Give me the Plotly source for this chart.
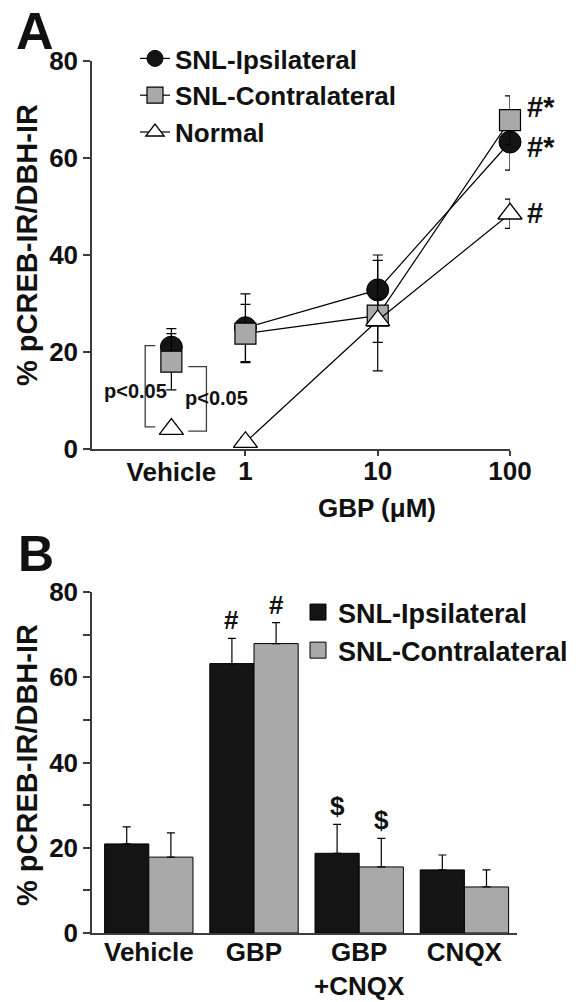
import numpy as np
import plotly.graph_objects as go

# ---------------- Panel A data ----------------
dose_labels = ["Vehicle", "1", "10", "100"]
doses = [1, 10, 100]
vehicle_pos = -0.56  # position of the Vehicle group on the log10(dose) axis

ipsi_a = [21.0, 25.0, 32.8, 63.3]
ipsi_a_err = [3.8, 7.0, 7.2, 5.8]
contra_a = [18.0, 23.8, 27.5, 67.8]
contra_a_err = [5.8, 6.0, 11.4, 5.0]
normal_a = [4.1, 1.4, 26.5, 48.5]
normal_a_err = [1.0, 1.0, 4.5, 3.0]
sig_a_labels = ["#*", "#*", "#"]          # at 100 µM: contra, ipsi, normal
sig_a_y = [70.5, 62.2, 48.6]

# ---------------- Panel B data ----------------
groups_b = ["Vehicle", "GBP", "GBP<br>+CNQX", "CNQX"]
ipsi_b = [20.9, 63.2, 18.7, 14.8]
ipsi_b_err = [4.0, 5.9, 6.8, 3.5]
contra_b = [17.8, 67.9, 15.5, 10.8]
contra_b_err = [5.7, 4.9, 6.7, 4.0]
sig_b_ipsi = ["", "#", "$", ""]
sig_b_contra = ["", "#", "$", ""]

series_names = ["SNL-Ipsilateral", "SNL-Contralateral", "Normal"]

BLACK = "#141414"
GRAY = "#a9a9a9"
AX = "#3c3c3c"
FONT = "Liberation Sans, Arial, Helvetica, sans-serif"

W, H = 580, 1002


def px_x(p):
    return p / W


def px_y(p):
    return (H - p) / H


x_dose = list(np.log10(doses))

fig = go.Figure()

styles = [
    dict(symbol="circle", size=22, color=BLACK, line=dict(color="black", width=1)),
    dict(symbol="square", size=21, color=GRAY, line=dict(color="black", width=1.2)),
    dict(symbol="triangle-up", size=21, color="white", line=dict(color="black", width=1.3)),
]
vals = [ipsi_a, contra_a, normal_a]
errs = [ipsi_a_err, contra_a_err, normal_a_err]

for name, st, v, e in zip(series_names, styles, vals, errs):
    # vehicle point (not connected)
    fig.add_trace(go.Scatter(
        x=[vehicle_pos], y=[v[0]], mode="markers", marker=st, showlegend=False,
        error_y=dict(type="data", array=[e[0]], color="black", thickness=1.2, width=5),
        xaxis="x3", yaxis="y", cliponaxis=False, hoverinfo="skip"))
    # dose-response line
    fig.add_trace(go.Scatter(
        x=x_dose, y=v[1:], mode="lines+markers", name=name, marker=st,
        line=dict(color="black", width=1.2),
        error_y=dict(type="data", array=e[1:], color="black", thickness=1.2, width=5),
        xaxis="x", yaxis="y", cliponaxis=False, legend="legend"))

# ---------------- Panel B bars ----------------
fig.add_trace(go.Bar(
    x=groups_b, y=ipsi_b, name="SNL-Ipsilateral", marker=dict(color=BLACK, line=dict(color="black", width=1)),
    error_y=dict(type="data", symmetric=False, array=ipsi_b_err, arrayminus=[0] * 4,
                 color="black", thickness=1.2, width=4),
    xaxis="x2", yaxis="y2", showlegend=False))
fig.add_trace(go.Bar(
    x=groups_b, y=contra_b, name="SNL-Contralateral", marker=dict(color=GRAY, line=dict(color="black", width=1)),
    error_y=dict(type="data", symmetric=False, array=contra_b_err, arrayminus=[0] * 4,
                 color="black", thickness=1.2, width=4),
    xaxis="x2", yaxis="y2", showlegend=False))

# legend entries for panel B (square swatches)
for name, col, grp in [("SNL-Ipsilateral", BLACK, "b1"), ("SNL-Contralateral", GRAY, "b2")]:
    fig.add_trace(go.Scatter(
        x=[None], y=[None], mode="markers", name=name,
        marker=dict(symbol="square", size=21, color=col, line=dict(color="black", width=1)),
        xaxis="x2", yaxis="y2", legend="legend2", legendgroup=grp))

tickfont = dict(family=FONT, size=26, color="#111", weight="bold")

fig.update_layout(
    width=W, height=H, margin=dict(l=0, r=0, t=0, b=0, pad=0, autoexpand=False),
    plot_bgcolor="white", paper_bgcolor="white",
    barmode="group", bargap=0.16, bargroupgap=0,
    font=dict(family=FONT, color="#111"),
    xaxis=dict(domain=[px_x(92), px_x(510)], range=[-1.16, 2.0], anchor="y",
               tickvals=x_dose, ticktext=dose_labels[1:], ticks="outside", ticklen=5,
               tickwidth=1.5, tickcolor=AX, showline=True, linecolor=AX, linewidth=1.5,
               showgrid=False, zeroline=False, tickfont=tickfont, automargin=False,
               ticklabelstandoff=-7),
    xaxis3=dict(overlaying="x", anchor="y", range=[-1.16, 2.0], side="bottom",
                tickvals=[vehicle_pos], ticktext=dose_labels[:1], ticks="",
                showline=False, showgrid=False, zeroline=False, tickfont=tickfont, automargin=False,
                ticklabelstandoff=5),
    yaxis=dict(domain=[px_y(449), px_y(61)], range=[0, 80], anchor="x",
               tickvals=[0, 20, 40, 60, 80], ticks="outside", ticklen=7, tickwidth=1.5,
               tickcolor=AX, showline=True, linecolor=AX, linewidth=1.5,
               showgrid=False, zeroline=False, tickfont=tickfont, automargin=False),
    xaxis2=dict(domain=[px_x(92), px_x(517)], range=[-0.54, 3.5], anchor="y2", type="category",
                ticks="", showline=True, linecolor=AX, linewidth=1.5, showgrid=False,
                zeroline=False, tickfont=tickfont, automargin=False, ticklabelstandoff=-5),
    yaxis2=dict(domain=[px_y(933), px_y(592)], range=[0, 80], anchor="x2",
                tickvals=[0, 20, 40, 60, 80], ticks="outside", ticklen=7, tickwidth=1.5,
                tickcolor=AX, showline=True, linecolor=AX, linewidth=1.5,
                minor=dict(dtick=10, ticks="outside", ticklen=7, tickwidth=1.5, tickcolor=AX),
                showgrid=False, zeroline=False, tickfont=tickfont, automargin=False),
    legend=dict(x=px_x(135), y=px_y(35), xanchor="left", yanchor="top",
                bgcolor="rgba(0,0,0,0)", font=dict(family=FONT, size=26, weight="bold", color="#111"),
                itemwidth=30, tracegroupgap=0),
    legend2=dict(x=px_x(298), y=px_y(588), xanchor="left", yanchor="top",
                 bgcolor="rgba(0,0,0,0)", font=dict(family=FONT, size=27, weight="bold", color="#111"),
                 itemwidth=30, tracegroupgap=0, traceorder="grouped"),
)

ann = []
bold = lambda s: dict(family=FONT, size=s, weight="bold", color="#111")
# panel letters
ann.append(dict(text="A", x=px_x(35), y=1.0, xref="paper", yref="paper", showarrow=False,
                font=bold(52), xanchor="center", yanchor="top"))
ann.append(dict(text="B", x=px_x(36), y=px_y(554), xref="paper", yref="paper", showarrow=False,
                font=bold(50), xanchor="center", yanchor="middle"))
# y titles
for yc in [245, 765]:
    ann.append(dict(text="% pCREB-IR/DBH-IR", x=px_x(27), y=px_y(yc), xref="paper", yref="paper",
                    textangle=-90, showarrow=False, font=bold(29), xanchor="center", yanchor="middle"))
# x title A
ann.append(dict(text="GBP (μM)", x=px_x(377), y=px_y(508), xref="paper", yref="paper",
                showarrow=False, font=bold(26), xanchor="center", yanchor="middle"))
# significance at 100 µM
for lab, yv in zip(sig_a_labels, sig_a_y):
    ann.append(dict(text=lab, x=x_dose[-1], y=yv, xref="x", yref="y", showarrow=False,
                    font=bold(29), xanchor="left", yanchor="middle", xshift=15))
# p<0.05 labels
ann.append(dict(text="p<0.05", x=-0.83, y=12.0, xref="x", yref="y", showarrow=False,
                font=bold(20), xanchor="center", yanchor="middle"))
ann.append(dict(text="p<0.05", x=-0.22, y=10.5, xref="x", yref="y", showarrow=False,
                font=bold(20), xanchor="center", yanchor="middle"))
# panel B significance
for i in range(len(groups_b)):
    for lab, v, e, off in [(sig_b_ipsi[i], ipsi_b[i], ipsi_b_err[i], -0.21),
                           (sig_b_contra[i], contra_b[i], contra_b_err[i], 0.21)]:
        if lab:
            ann.append(dict(text=lab, x=i + off, y=v + e, xref="x2", yref="y2", showarrow=False,
                            font=bold(26), xanchor="center", yanchor="middle", yshift=18))
fig.update_layout(annotations=ann)

# brackets for vehicle comparison
fig.add_shape(type="path", path="M -0.682,21.3 L -0.758,21.3 L -0.758,4.55 L -0.682,4.55",
              xref="x", yref="y", line=dict(color=AX, width=1.3))
fig.add_shape(type="path", path="M -0.432,17.0 L -0.295,17.0 L -0.295,3.7 L -0.432,3.7",
              xref="x", yref="y", line=dict(color=AX, width=1.3))

fig.write_html("out.html", config={"displayModeBar": False},
               post_script="document.body.style.margin='0px';")
